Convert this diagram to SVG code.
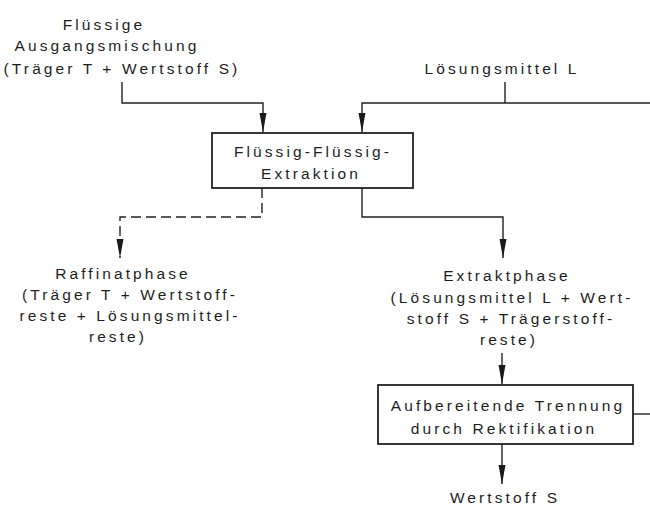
<svg xmlns="http://www.w3.org/2000/svg" width="650" height="507" viewBox="0 0 650 507">
<style>
text{font-family:"Liberation Sans",Arial,sans-serif;font-size:15.5px;letter-spacing:3.1px;fill:#1e1e1e;text-anchor:middle}
.box{fill:#fff;stroke:#222;stroke-width:1.8}
.ln{fill:none;stroke:#222;stroke-width:1.4}
.dash{stroke-dasharray:10 5}
</style>
<defs>
<marker id="ah" markerUnits="userSpaceOnUse" markerWidth="20" markerHeight="8" viewBox="0 0 20 8" refX="19" refY="4" orient="auto">
<path d="M0,0.5 L19,4 L0,7.5 Z" fill="#1a1a1a"/>
</marker>
</defs>
<rect width="650" height="507" fill="#fff"/>
<g id="connectors">
<path class="ln" d="M122,82 V103 H263 V132" marker-end="url(#ah)"/>
<path class="ln" d="M505,82 V103"/>
<path class="ln" d="M650,103 H362 V132" marker-end="url(#ah)"/>
<path class="ln dash" d="M262,188 V217 H120 V258" marker-end="url(#ah)"/>
<path class="ln" d="M362,188 V217 H503 V258" marker-end="url(#ah)"/>
<path class="ln" d="M502,353 V384" marker-end="url(#ah)"/>
<path class="ln" d="M502,444 V484" marker-end="url(#ah)"/>
<path class="ln" d="M633,414 H650"/>
</g>
<g id="input-mixture">
<text x="104" y="30">Flüssige</text>
<text x="107" y="51">Ausgangsmischung</text>
<text x="122" y="74">(Träger T + Wertstoff S)</text>
</g>
<g id="solvent">
<text x="502" y="74">Lösungsmittel L</text>
</g>
<g id="extraction">
<rect class="box" x="212" y="133" width="201" height="55"/>
<text x="313" y="157">Flüssig-Flüssig-</text>
<text x="311" y="179">Extraktion</text>
</g>
<g id="raffinate">
<text x="123" y="279">Raffinatphase</text>
<text x="130" y="300">(Träger T + Wertstoff-</text>
<text x="130" y="321">reste + Lösungsmittel-</text>
<text x="118" y="342">reste)</text>
</g>
<g id="extract">
<text x="507" y="281">Extraktphase</text>
<text x="512" y="303">(Lösungsmittel L + Wert-</text>
<text x="511" y="324">stoff S + Trägerstoff-</text>
<text x="509" y="345">reste)</text>
</g>
<g id="rectification">
<rect class="box" x="378" y="385" width="255" height="59"/>
<text x="508" y="411">Aufbereitende Trennung</text>
<text x="504" y="434">durch Rektifikation</text>
</g>
<g id="product">
<text x="505" y="503">Wertstoff S</text>
</g>
</svg>
